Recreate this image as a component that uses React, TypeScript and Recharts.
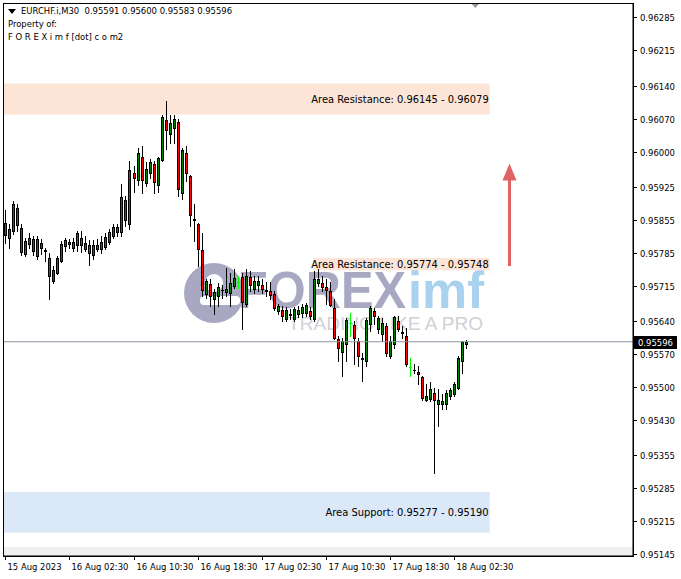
import React from "react";
import { ComposedChart, Bar, XAxis, YAxis, ReferenceArea, ReferenceLine, ReferenceDot } from "recharts";

// EURCHF.i M30, one value per candle (left to right)
const opens = [
  0.95849, 0.95817, 0.95832, 0.95881, 0.95838, 0.95783, 0.95804, 0.95815, 0.95779, 0.95806,
  0.9579, 0.95775, 0.95726, 0.95743, 0.95768, 0.958, 0.95804, 0.95796, 0.95802, 0.95817,
  0.95794, 0.95802, 0.95781, 0.95794, 0.95794, 0.95798, 0.95809, 0.95821, 0.9583, 0.9583,
  0.95898, 0.95847, 0.95955, 0.9594, 0.95989, 0.95934, 0.95955, 0.95974, 0.9593, 0.95983,
  0.96068, 0.96038, 0.96051, 0.96062, 0.95913, 0.95998, 0.95949, 0.95856, 0.95847, 0.95792,
  0.95698, 0.95719, 0.95687, 0.95694, 0.95707, 0.95702, 0.957, 0.95715, 0.95723, 0.95734,
  0.95677, 0.95734, 0.95709, 0.95717, 0.95717, 0.95705, 0.95704, 0.95698, 0.95662, 0.95664,
  0.95645, 0.95654, 0.95645, 0.95655, 0.95658, 0.95658, 0.95662, 0.95645, 0.95721, 0.95721,
  0.95713, 0.95704, 0.95668, 0.95602, 0.95575, 0.95592, 0.95636, 0.95632, 0.95598, 0.95561,
  0.95555, 0.95634, 0.95662, 0.95624, 0.95613, 0.9563, 0.95566, 0.95592, 0.95641, 0.95616,
  0.95609, 0.95543, 0.95537, 0.95532, 0.95521, 0.95472, 0.95475, 0.95487, 0.95464, 0.95464,
  0.95464, 0.95481, 0.95485, 0.95498, 0.95555, 0.95591,
];
const highs = [
  0.95875, 0.95847, 0.95896, 0.95889, 0.95847, 0.95817, 0.95828, 0.95821, 0.95821, 0.95815,
  0.95796, 0.95785, 0.95757, 0.95779, 0.95811, 0.95817, 0.95815, 0.95817, 0.95832, 0.95832,
  0.95821, 0.95813, 0.95813, 0.95815, 0.95821, 0.95828, 0.95836, 0.95847, 0.95847, 0.95932,
  0.95906, 0.95981, 0.9597, 0.96008, 0.96011, 0.95979, 0.95985, 0.95981, 0.95989, 0.96077,
  0.96108, 0.96077, 0.96077, 0.9607, 0.96008, 0.96011, 0.95951, 0.95889, 0.95849, 0.95828,
  0.9573, 0.9573, 0.95709, 0.95721, 0.95717, 0.95753, 0.95743, 0.95751, 0.95736, 0.95743,
  0.95751, 0.95747, 0.95736, 0.95736, 0.9573, 0.95723, 0.95723, 0.95704, 0.95677, 0.95672,
  0.9567, 0.95666, 0.9567, 0.95672, 0.95677, 0.95679, 0.9567, 0.95747, 0.95751, 0.95736,
  0.9573, 0.95723, 0.95687, 0.95609, 0.95604, 0.95647, 0.95658, 0.95641, 0.95604, 0.95572,
  0.95647, 0.95672, 0.95668, 0.95651, 0.95647, 0.95636, 0.95609, 0.95651, 0.95651, 0.9563,
  0.95626, 0.95562, 0.95549, 0.95545, 0.95524, 0.95507, 0.95511, 0.95498, 0.95496, 0.95485,
  0.95494, 0.95498, 0.95511, 0.95566, 0.95598, 0.956,
];
const lows = [
  0.95806, 0.95796, 0.95826, 0.95832, 0.95781, 0.95779, 0.95796, 0.95781, 0.95772, 0.95783,
  0.95768, 0.95687, 0.95721, 0.9574, 0.95766, 0.95789, 0.95796, 0.95789, 0.95789, 0.95787,
  0.95789, 0.9576, 0.95772, 0.95789, 0.95785, 0.95794, 0.95804, 0.95817, 0.95821, 0.95821,
  0.95843, 0.95836, 0.95915, 0.9593, 0.95913, 0.95926, 0.95945, 0.95913, 0.95915, 0.95981,
  0.96006, 0.96019, 0.96019, 0.95906, 0.959, 0.95938, 0.95843, 0.95811, 0.95757, 0.95694,
  0.95689, 0.95672, 0.95655, 0.95672, 0.95689, 0.95694, 0.95672, 0.95711, 0.95711, 0.95624,
  0.95672, 0.95704, 0.957, 0.95704, 0.957, 0.95694, 0.95687, 0.95664, 0.95655, 0.95641,
  0.95641, 0.95645, 0.95641, 0.95649, 0.95649, 0.95651, 0.95645, 0.95641, 0.95715, 0.95704,
  0.95677, 0.95672, 0.95602, 0.95555, 0.95524, 0.95555, 0.95609, 0.95549, 0.95545, 0.95513,
  0.95545, 0.95619, 0.95634, 0.95615, 0.95598, 0.95566, 0.95562, 0.95583, 0.95619, 0.95604,
  0.95545, 0.95524, 0.9553, 0.95507, 0.95472, 0.9547, 0.9547, 0.95317, 0.95417, 0.95453,
  0.95453, 0.95475, 0.95481, 0.95496, 0.9553, 0.95583,
];
const closes = [
  0.95823, 0.95836, 0.95889, 0.95845, 0.95787, 0.95811, 0.95817, 0.95789, 0.95815, 0.95796,
  0.95789, 0.95736, 0.95749, 0.95775, 0.95804, 0.95813, 0.95809, 0.95809, 0.95828, 0.95802,
  0.95806, 0.95785, 0.95802, 0.95802, 0.95809, 0.95819, 0.9583, 0.9584, 0.9584, 0.95904,
  0.95855, 0.95962, 0.95945, 0.95998, 0.9594, 0.95964, 0.95979, 0.95936, 0.95987, 0.96074,
  0.96047, 0.9606, 0.9607, 0.95921, 0.96004, 0.95955, 0.95866, 0.95855, 0.95794, 0.95706,
  0.95726, 0.95694, 0.95702, 0.95713, 0.95706, 0.95709, 0.95721, 0.95732, 0.95723, 0.95681,
  0.95736, 0.95717, 0.95726, 0.95726, 0.95709, 0.95704, 0.95696, 0.95668, 0.95672, 0.95651,
  0.95664, 0.95653, 0.95666, 0.95664, 0.9567, 0.95675, 0.95651, 0.9573, 0.9573, 0.95713,
  0.95706, 0.95675, 0.95604, 0.95583, 0.95598, 0.95643, 0.95636, 0.95604, 0.95566, 0.9556,
  0.95643, 0.95668, 0.95651, 0.95647, 0.95636, 0.95572, 0.95598, 0.95649, 0.95624, 0.95615,
  0.95549, 0.95543, 0.95536, 0.95528, 0.95477, 0.95481, 0.95496, 0.95472, 0.95472, 0.9547,
  0.95487, 0.95494, 0.95507, 0.95562, 0.95596, 0.95596,
];

// time axis: bar index -> label
const timeTickIdx = [0, 16, 32, 48, 64, 80, 96, 112];
const timeTickLabels = [
  "15 Aug 2023", "16 Aug 02:30", "16 Aug 10:30", "16 Aug 18:30",
  "17 Aug 02:30", "17 Aug 10:30", "17 Aug 18:30", "18 Aug 02:30",
];

const priceTicks = [
  0.96285, 0.96215, 0.9614, 0.9607, 0.96, 0.95925, 0.95855, 0.95785, 0.95715,
  0.9564, 0.9557, 0.955, 0.9543, 0.95355, 0.95285, 0.95215, 0.95145,
];

// zones drawn on the chart (price range + bar range)
const zoneLabels = ["Area Resistance: 0.96145 - 0.96079", "Area Resistance: 0.95774 - 0.95748", "Area Support: 0.95277 - 0.95190"];
const zoneTops = [0.96145, 0.95774, 0.95277];
const zoneBottoms = [0.96079, 0.95748, 0.9519];
const zoneStarts = [-0.575, 76.9, -0.575];
const zoneEnds = [120.9, 120.9, 120.9];
const zoneKinds = ["res", "res", "sup"];

// up arrow (bar index, from price, to price)
const arrowAt = 125.7;
const arrowFrom = 0.95757;
const arrowTo = 0.95975;

const headerLine = "EURCHF.i,M30  0.95591 0.95600 0.95583 0.95596";
const lastPrice = closes[closes.length - 1];

const FONT = "'DejaVu Sans Condensed', 'Liberation Sans', Arial, sans-serif";
const FS = 9.4;
const UP = "#008000";
const DOWN = "#ff0000";

const rows = opens.map((o, i) => ({
  i,
  o,
  h: highs[i],
  l: lows[i],
  c: closes[i],
  range: [lows[i], highs[i]],
}));

function Candle(props: any) {
  const { x, y, width, height, payload } = props;
  if (x == null || payload == null) return null;
  const { o, h, l, c } = payload;
  const top = Math.min(y, y + height);
  const span = Math.abs(height);
  const k = h === l ? 0 : span / (h - l);
  const py = (v: number) => top + (h - v) * k;
  const cx = Math.round(x + width / 2 - 0.5);
  const yH = Math.round(py(h));
  const yL = Math.round(py(l));
  if (o === c) {
    const yc = Math.round(py(o));
    return (
      <g>
        <rect x={cx} y={yH} width={1} height={Math.max(1, yL - yH + 1)} fill="#00ff00" />
        <rect x={cx - 1} y={yc} width={3} height={1} fill="#00ff00" />
      </g>
    );
  }
  const bTop = Math.round(py(Math.max(o, c)));
  const bBot = Math.round(py(Math.min(o, c)));
  const bh = Math.max(1, bBot - bTop + 1);
  return (
    <g>
      <rect x={cx} y={yH} width={1} height={Math.max(1, yL - yH + 1)} fill="#000" />
      <rect x={cx - 1} y={bTop} width={3} height={bh} fill="#000" />
      {bh >= 3 && <rect x={cx} y={bTop + 1} width={1} height={bh - 2} fill={c > o ? UP : DOWN} />}
    </g>
  );
}

function TimeTick(props: any) {
  const { x, y, payload } = props;
  const label = timeTickLabels[timeTickIdx.indexOf(payload.value)];
  const px = Math.round(x) + 0.5;
  return (
    <g>
      <line x1={px} x2={px} y1={y} y2={y + 4} stroke="#000" />
      <text x={px + 2} y={y + 14} fontSize={FS} fontFamily={FONT} fill="#000" textAnchor="start">
        {label}
      </text>
    </g>
  );
}

function PriceTick(props: any) {
  const { x, y, payload } = props;
  const py = Math.round(y) + 0.5;
  return (
    <g>
      <line x1={x} x2={x + 4} y1={py} y2={py} stroke="#000" />
      <text x={x + 7} y={py + 3.5} fontSize={FS} fontFamily={FONT} fill="#000" textAnchor="start">
        {payload.value.toFixed(5)}
      </text>
    </g>
  );
}

function ZoneLabel(text: string) {
  return (p: any) => {
    const vb = p.viewBox;
    if (!vb) return null;
    return (
      <text
        x={vb.x + vb.width - 1}
        y={vb.y + vb.height / 2 + 4}
        fontSize={11}
        fontFamily={FONT}
        fill="#000"
        textAnchor="end"
      >
        {text}
      </text>
    );
  };
}

function PriceBox(p: any) {
  const vb = p.viewBox;
  if (!vb) return null;
  const x0 = vb.x + vb.width + 1;
  const y0 = Math.round(vb.y);
  return (
    <g>
      <rect x={x0} y={y0 - 6} width={43} height={13} fill="#000" />
      <text x={x0 + 4} y={y0 + 4} fontSize={FS} fontFamily={FONT} fill="#fff">
        {lastPrice.toFixed(5)}
      </text>
    </g>
  );
}

function Arrow(p: any) {
  const { x1, y1, y2 } = p;
  if (x1 == null) return null;
  const cx = Math.round(x1);
  const tip = Math.min(y1, y2);
  const base = Math.max(y1, y2);
  return (
    <g>
      <rect x={cx - 1} y={tip + 14} width={3} height={base - tip - 14} fill="#e06262" />
      <polygon points={`${cx + 0.5},${tip} ${cx - 6.5},${tip + 17} ${cx + 7.5},${tip + 17}`} fill="#e06262" />
    </g>
  );
}

function ShiftMark(p: any) {
  const { cx } = p;
  if (cx == null) return null;
  return <polygon points={`${cx - 4},3 ${cx + 5},3 ${cx + 0.5},8`} fill="#8f9aa5" />;
}

function Watermark() {
  return (
    <svg width={681} height={579} style={{ position: "absolute", left: 0, top: 0 }}>
      <circle cx={214} cy={293} r={30} fill="#a8a8c3" />
      <rect x={200} y={296} width={40} height={9} rx={4} fill="#fff" />
      <circle cx={214} cy={283} r={9} fill="#fff" />
      <text x={238} y={308} fontSize={52} fontFamily="'Liberation Sans', Arial" fontWeight={700}
        fill="#a8a8c3" textLength={168} lengthAdjust="spacingAndGlyphs">FOREX</text>
      <text x={408} y={308} fontSize={52} fontFamily="'Liberation Sans', Arial" fontWeight={700}
        fill="#a9d2ee" textLength={76} lengthAdjust="spacingAndGlyphs">imf</text>
      <text x={288} y={330} fontSize={19} fontFamily="'Liberation Sans', Arial"
        fill="#d0d0d6" textLength={195} lengthAdjust="spacingAndGlyphs">TRADING LIKE A PRO</text>
    </svg>
  );
}

export default function App() {
  return (
    <div style={{ position: "relative", width: 681, height: 579, background: "#fff", overflow: "hidden" }}>
      <style>{"body{margin:0}"}</style>
      <Watermark />
      <div style={{ position: "absolute", left: 3, top: 547, width: 630, height: 9, background: "#f0f0f0" }} />
      <div style={{ position: "absolute", left: 0, top: 0 }}>
        <ComposedChart width={681} height={579} data={rows} margin={{ top: 3, right: 0, bottom: 3, left: 3 }}>
          <XAxis
            dataKey="i"
            type="number"
            domain={[-0.575, 156.675]}
            allowDataOverflow
            ticks={timeTickIdx}
            interval={0}
            tick={<TimeTick />}
            tickSize={0}
            tickMargin={0}
            axisLine={{ stroke: "#000" }}
            height={20}
          />
          <YAxis
            orientation="right"
            type="number"
            domain={[0.951408, 0.963158]}
            allowDataOverflow
            ticks={priceTicks}
            interval={0}
            tick={<PriceTick />}
            tickSize={0}
            tickMargin={0}
            axisLine={{ stroke: "#000" }}
            width={48}
          />
          {zoneLabels.map((t, k) => (
            <ReferenceArea
              key={t}
              x1={zoneStarts[k]}
              x2={zoneEnds[k]}
              y1={zoneBottoms[k]}
              y2={zoneTops[k]}
              fill={zoneKinds[k] === "res" ? "#fce4d6" : "#dae8f7"}
              fillOpacity={1}
              stroke="none"
              ifOverflow="visible"
              label={ZoneLabel(t)}
            />
          ))}
          <ReferenceLine y={lastPrice} stroke="#8a94a0" strokeWidth={1} label={PriceBox} />
          <Bar dataKey="range" barSize={3} shape={<Candle />} isAnimationActive={false} />
          <ReferenceLine
            segment={[{ x: arrowAt, y: arrowFrom }, { x: arrowAt, y: arrowTo }]}
            shape={Arrow}
            ifOverflow="visible"
          />
          <ReferenceDot x={117.2} y={0.963158} r={4} shape={ShiftMark} ifOverflow="visible" />
        </ComposedChart>
      </div>
      <div style={{ position: "absolute", left: 3, top: 3, width: 629, height: 552, border: "1px solid #000", pointerEvents: "none" }} />
      <div style={{ position: "absolute", left: 8, top: 4, fontFamily: FONT, fontSize: FS, lineHeight: "13px", color: "#000", whiteSpace: "pre" }}>
        <div>
          <span style={{ display: "inline-block", width: 0, height: 0, borderLeft: "4px solid transparent", borderRight: "4px solid transparent", borderTop: "5px solid #000", marginRight: 5, verticalAlign: "middle" }} />
          {headerLine}
        </div>
        <div>Property of:</div>
        <div>F O R E X i m f [dot] c o m2</div>
      </div>
    </div>
  );
}
